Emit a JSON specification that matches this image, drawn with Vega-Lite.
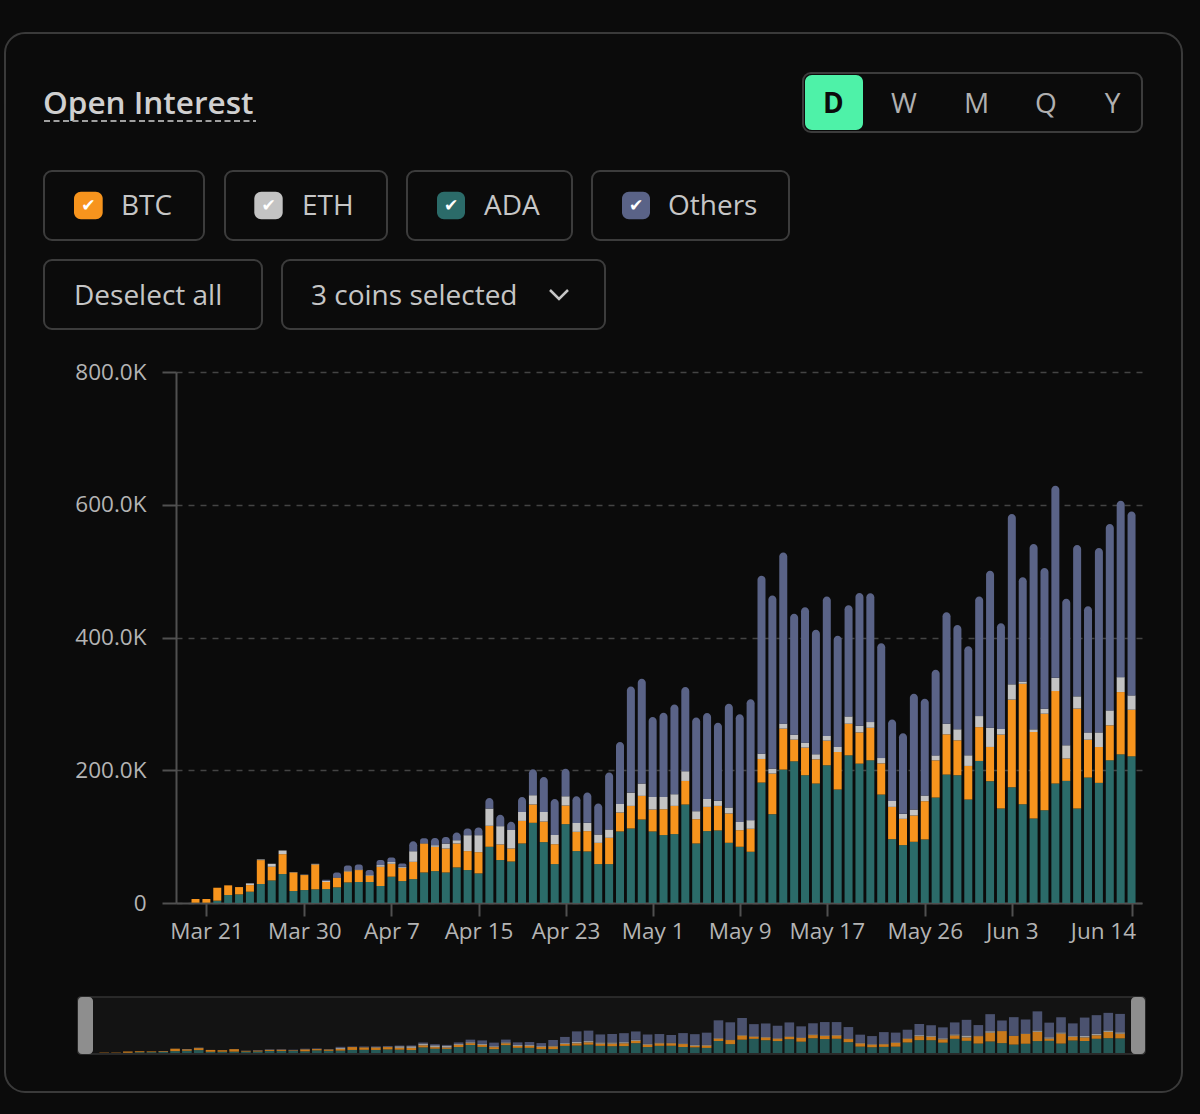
{
  "$schema": "https://vega.github.io/schema/vega-lite/v6.json",
  "width": 1200,
  "height": 1114,
  "autosize": "none",
  "padding": 0,
  "background": "#0b0b0b",
  "config": {"view": {"stroke": null}, "font": "Open Sans"},
  "datasets": {
    "oi": [
      {"date": "2024-03-20", "ADA": 500, "BTC": 5500, "ETH": 0, "Others": 0},
      {"date": "2024-03-21", "ADA": 500, "BTC": 5500, "ETH": 0, "Others": 0},
      {"date": "2024-03-22", "ADA": 3500, "BTC": 19500, "ETH": 0, "Others": 0},
      {"date": "2024-03-23", "ADA": 12000, "BTC": 14600, "ETH": 0, "Others": 0},
      {"date": "2024-03-24", "ADA": 13000, "BTC": 11000, "ETH": 0, "Others": 0},
      {"date": "2024-03-25", "ADA": 17000, "BTC": 10000, "ETH": 2600, "Others": 0},
      {"date": "2024-03-26", "ADA": 28600, "BTC": 36000, "ETH": 1000, "Others": 0},
      {"date": "2024-03-27", "ADA": 34000, "BTC": 20600, "ETH": 4500, "Others": 0},
      {"date": "2024-03-28", "ADA": 43600, "BTC": 30000, "ETH": 5500, "Others": 0},
      {"date": "2024-03-29", "ADA": 18000, "BTC": 28000, "ETH": 500, "Others": 0},
      {"date": "2024-03-30", "ADA": 19500, "BTC": 22600, "ETH": 500, "Others": 0},
      {"date": "2024-03-31", "ADA": 20600, "BTC": 37400, "ETH": 1000, "Others": 0},
      {"date": "2024-04-01", "ADA": 21000, "BTC": 10600, "ETH": 2000, "Others": 1400},
      {"date": "2024-04-02", "ADA": 23600, "BTC": 14400, "ETH": 600, "Others": 7500},
      {"date": "2024-04-03", "ADA": 31000, "BTC": 16500, "ETH": 1500, "Others": 7500},
      {"date": "2024-04-04", "ADA": 31600, "BTC": 18000, "ETH": 1000, "Others": 7500},
      {"date": "2024-04-05", "ADA": 31600, "BTC": 9400, "ETH": 1000, "Others": 7600},
      {"date": "2024-04-06", "ADA": 25600, "BTC": 29000, "ETH": 2500, "Others": 7600},
      {"date": "2024-04-07", "ADA": 39600, "BTC": 19500, "ETH": 2600, "Others": 7000},
      {"date": "2024-04-08", "ADA": 33000, "BTC": 20000, "ETH": 1500, "Others": 5000},
      {"date": "2024-04-09", "ADA": 36000, "BTC": 26000, "ETH": 16000, "Others": 15000},
      {"date": "2024-04-10", "ADA": 46000, "BTC": 43600, "ETH": 500, "Others": 7500},
      {"date": "2024-04-11", "ADA": 48000, "BTC": 36600, "ETH": 2500, "Others": 11000},
      {"date": "2024-04-12", "ADA": 46000, "BTC": 36000, "ETH": 7500, "Others": 10000},
      {"date": "2024-04-13", "ADA": 53600, "BTC": 36000, "ETH": 5000, "Others": 11600},
      {"date": "2024-04-14", "ADA": 49600, "BTC": 28600, "ETH": 24000, "Others": 10000},
      {"date": "2024-04-15", "ADA": 44600, "BTC": 32000, "ETH": 25600, "Others": 11500},
      {"date": "2024-04-16", "ADA": 84700, "BTC": 31600, "ETH": 26000, "Others": 16000},
      {"date": "2024-04-17", "ADA": 64700, "BTC": 23500, "ETH": 27600, "Others": 17000},
      {"date": "2024-04-18", "ADA": 62700, "BTC": 19500, "ETH": 27600, "Others": 12500},
      {"date": "2024-04-19", "ADA": 89700, "BTC": 34000, "ETH": 13500, "Others": 22600},
      {"date": "2024-04-20", "ADA": 120800, "BTC": 27600, "ETH": 14000, "Others": 39000},
      {"date": "2024-04-21", "ADA": 91700, "BTC": 31000, "ETH": 14500, "Others": 52700},
      {"date": "2024-04-22", "ADA": 58600, "BTC": 30000, "ETH": 14000, "Others": 54000},
      {"date": "2024-04-23", "ADA": 118800, "BTC": 28000, "ETH": 14000, "Others": 41600},
      {"date": "2024-04-24", "ADA": 78200, "BTC": 29000, "ETH": 13500, "Others": 40000},
      {"date": "2024-04-25", "ADA": 77700, "BTC": 30600, "ETH": 12500, "Others": 45600},
      {"date": "2024-04-26", "ADA": 58600, "BTC": 32000, "ETH": 12600, "Others": 46600},
      {"date": "2024-04-27", "ADA": 58600, "BTC": 39600, "ETH": 12600, "Others": 85700},
      {"date": "2024-04-28", "ADA": 107800, "BTC": 28500, "ETH": 13000, "Others": 93300},
      {"date": "2024-04-29", "ADA": 112300, "BTC": 34000, "ETH": 20000, "Others": 160000},
      {"date": "2024-04-30", "ADA": 125800, "BTC": 35600, "ETH": 18600, "Others": 157800},
      {"date": "2024-05-01", "ADA": 107800, "BTC": 33000, "ETH": 19000, "Others": 120300},
      {"date": "2024-05-02", "ADA": 102300, "BTC": 39000, "ETH": 18500, "Others": 126800},
      {"date": "2024-05-03", "ADA": 103800, "BTC": 42500, "ETH": 17600, "Others": 135300},
      {"date": "2024-05-04", "ADA": 148400, "BTC": 35500, "ETH": 14600, "Others": 126800},
      {"date": "2024-05-05", "ADA": 89700, "BTC": 36600, "ETH": 12000, "Others": 141000},
      {"date": "2024-05-06", "ADA": 108300, "BTC": 36500, "ETH": 12000, "Others": 129300},
      {"date": "2024-05-07", "ADA": 109300, "BTC": 37000, "ETH": 7600, "Others": 117800},
      {"date": "2024-05-08", "ADA": 90700, "BTC": 44200, "ETH": 9000, "Others": 156400},
      {"date": "2024-05-09", "ADA": 84700, "BTC": 25000, "ETH": 12500, "Others": 162000},
      {"date": "2024-05-10", "ADA": 77200, "BTC": 34600, "ETH": 13000, "Others": 182000},
      {"date": "2024-05-11", "ADA": 181500, "BTC": 35500, "ETH": 8000, "Others": 268000},
      {"date": "2024-05-12", "ADA": 133800, "BTC": 61200, "ETH": 7500, "Others": 260700},
      {"date": "2024-05-13", "ADA": 201000, "BTC": 61700, "ETH": 7500, "Others": 258000},
      {"date": "2024-05-14", "ADA": 213500, "BTC": 32600, "ETH": 7500, "Others": 182000},
      {"date": "2024-05-15", "ADA": 192500, "BTC": 41600, "ETH": 7500, "Others": 204000},
      {"date": "2024-05-16", "ADA": 180000, "BTC": 36500, "ETH": 7600, "Others": 187400},
      {"date": "2024-05-17", "ADA": 207500, "BTC": 37100, "ETH": 7000, "Others": 210000},
      {"date": "2024-05-18", "ADA": 171000, "BTC": 56500, "ETH": 7600, "Others": 167400},
      {"date": "2024-05-19", "ADA": 222500, "BTC": 47600, "ETH": 11000, "Others": 167400},
      {"date": "2024-05-20", "ADA": 210000, "BTC": 47000, "ETH": 10000, "Others": 200000},
      {"date": "2024-05-21", "ADA": 215000, "BTC": 49000, "ETH": 8600, "Others": 194000},
      {"date": "2024-05-22", "ADA": 163400, "BTC": 47000, "ETH": 8000, "Others": 173000},
      {"date": "2024-05-23", "ADA": 96200, "BTC": 48600, "ETH": 9000, "Others": 122800},
      {"date": "2024-05-24", "ADA": 87200, "BTC": 39600, "ETH": 7500, "Others": 121300},
      {"date": "2024-05-25", "ADA": 92200, "BTC": 39600, "ETH": 9000, "Others": 174400},
      {"date": "2024-05-26", "ADA": 95800, "BTC": 57600, "ETH": 8500, "Others": 145900},
      {"date": "2024-05-27", "ADA": 158900, "BTC": 56000, "ETH": 7500, "Others": 129000},
      {"date": "2024-05-28", "ADA": 193500, "BTC": 60600, "ETH": 16000, "Others": 167800},
      {"date": "2024-05-29", "ADA": 192500, "BTC": 52600, "ETH": 16600, "Others": 157300},
      {"date": "2024-05-30", "ADA": 155900, "BTC": 50600, "ETH": 16000, "Others": 164500},
      {"date": "2024-05-31", "ADA": 214000, "BTC": 51000, "ETH": 16600, "Others": 180000},
      {"date": "2024-06-01", "ADA": 183500, "BTC": 51600, "ETH": 29000, "Others": 236600},
      {"date": "2024-06-02", "ADA": 142400, "BTC": 111300, "ETH": 8500, "Others": 159300},
      {"date": "2024-06-03", "ADA": 174400, "BTC": 132000, "ETH": 23000, "Others": 256700},
      {"date": "2024-06-04", "ADA": 148900, "BTC": 181400, "ETH": 3500, "Others": 157000},
      {"date": "2024-06-05", "ADA": 127300, "BTC": 130300, "ETH": 4000, "Others": 279300},
      {"date": "2024-06-06", "ADA": 139800, "BTC": 145400, "ETH": 7500, "Others": 212000},
      {"date": "2024-06-07", "ADA": 180000, "BTC": 139300, "ETH": 20000, "Others": 289200},
      {"date": "2024-06-08", "ADA": 184000, "BTC": 33600, "ETH": 20000, "Others": 220600},
      {"date": "2024-06-09", "ADA": 142400, "BTC": 150400, "ETH": 18500, "Others": 228000},
      {"date": "2024-06-10", "ADA": 189000, "BTC": 57000, "ETH": 11000, "Others": 190000},
      {"date": "2024-06-11", "ADA": 181000, "BTC": 54000, "ETH": 22000, "Others": 277800},
      {"date": "2024-06-12", "ADA": 215000, "BTC": 52700, "ETH": 22500, "Others": 280800},
      {"date": "2024-06-13", "ADA": 224000, "BTC": 93800, "ETH": 22500, "Others": 265700},
      {"date": "2024-06-14", "ADA": 221000, "BTC": 70200, "ETH": 21600, "Others": 277200}
    ],
    "ui": [
      {"kind": "card", "x": 5, "x2": 1182, "y": 33, "y2": 1092},
      {"kind": "ovbg", "x": 78, "x2": 1145, "y": 997, "y2": 1054},
      {"kind": "handle", "x": 78, "x2": 93, "y": 997, "y2": 1054},
      {"kind": "handle", "x": 1131, "x2": 1145, "y": 997, "y2": 1054},
      {"kind": "btn", "x": 803, "x2": 1142, "y": 73, "y2": 132},
      {"kind": "btn", "x": 44, "x2": 204, "y": 171, "y2": 240},
      {"kind": "btn", "x": 225, "x2": 387, "y": 171, "y2": 240},
      {"kind": "btn", "x": 407, "x2": 572, "y": 171, "y2": 240},
      {"kind": "btn", "x": 592, "x2": 789, "y": 171, "y2": 240},
      {"kind": "btn", "x": 44, "x2": 262, "y": 260, "y2": 329},
      {"kind": "btn", "x": 282, "x2": 605, "y": 260, "y2": 329},
      {"kind": "sel", "x": 805, "x2": 863, "y": 75, "y2": 130},
      {"kind": "box", "coin": "BTC", "x": 74, "x2": 102.7, "y": 191.7, "y2": 219.3},
      {"kind": "box", "coin": "ETH", "x": 254.3, "x2": 282.7, "y": 191.7, "y2": 219.3},
      {"kind": "box", "coin": "ADA", "x": 437, "x2": 465, "y": 191.7, "y2": 219.3},
      {"kind": "box", "coin": "Others", "x": 622, "x2": 650, "y": 191.7, "y2": 219.3},
      {"kind": "check", "txt": "✔", "x": 88.4, "y": 206},
      {"kind": "check", "txt": "✔", "x": 268.5, "y": 206},
      {"kind": "check", "txt": "✔", "x": 451, "y": 206},
      {"kind": "check", "txt": "✔", "x": 636, "y": 206},
      {"kind": "label", "txt": "BTC", "x": 121, "y": 215},
      {"kind": "label", "txt": "ETH", "x": 302, "y": 215},
      {"kind": "label", "txt": "ADA", "x": 484, "y": 215},
      {"kind": "label", "txt": "Others", "x": 668, "y": 215},
      {"kind": "label", "txt": "Deselect all", "x": 74, "y": 305},
      {"kind": "label", "txt": "3 coins selected", "x": 311, "y": 305},
      {"kind": "tabsel", "txt": "D", "x": 833.3, "y": 112.7},
      {"kind": "tab", "txt": "W", "x": 904, "y": 112.7},
      {"kind": "tab", "txt": "M", "x": 976.7, "y": 112.7},
      {"kind": "tab", "txt": "Q", "x": 1046, "y": 112.7},
      {"kind": "tab", "txt": "Y", "x": 1112.7, "y": 112.7},
      {"kind": "title", "txt": "Open Interest", "x": 43, "y": 114},
      {"kind": "underline", "x": 44, "x2": 256, "y": 121},
      {"kind": "chev", "o": 1, "x": 550, "y": 290},
      {"kind": "chev", "o": 2, "x": 559, "y": 299},
      {"kind": "chev", "o": 3, "x": 568, "y": 290}
    ]
  },
  "layer": [
    {
      "data": {"name": "ui"},
      "encoding": {
        "x": {"field": "x", "type": "quantitative", "scale": {"domain": [0, 1200], "nice": false, "zero": false}, "axis": null},
        "y": {"field": "y", "type": "quantitative", "scale": {"domain": [0, 1114], "reverse": true, "nice": false, "zero": false}, "axis": null}
      },
      "layer": [
        {
          "transform": [{"filter": "datum.kind === 'card'"}],
          "mark": {"type": "rect", "fillOpacity": 0, "stroke": "#3a3a3a", "strokeWidth": 2, "cornerRadius": 20},
          "encoding": {"x2": {"field": "x2"}, "y2": {"field": "y2"}}
        },
        {
          "transform": [{"filter": "datum.kind === 'ovbg'"}],
          "mark": {"type": "rect", "fill": "#131313", "stroke": "#333333", "strokeWidth": 1.5, "cornerRadius": 3},
          "encoding": {"x2": {"field": "x2"}, "y2": {"field": "y2"}}
        },
        {
          "transform": [{"filter": "datum.kind === 'handle'"}],
          "mark": {"type": "rect", "fill": "#8e8e8e", "cornerRadius": 4},
          "encoding": {"x2": {"field": "x2"}, "y2": {"field": "y2"}}
        },
        {
          "transform": [{"filter": "datum.kind === 'btn'"}],
          "mark": {"type": "rect", "fillOpacity": 0, "stroke": "#3c3c3c", "strokeWidth": 2, "cornerRadius": 8},
          "encoding": {"x2": {"field": "x2"}, "y2": {"field": "y2"}}
        },
        {
          "transform": [{"filter": "datum.kind === 'sel'"}],
          "mark": {"type": "rect", "fill": "#4ef2a8", "cornerRadius": 7},
          "encoding": {"x2": {"field": "x2"}, "y2": {"field": "y2"}}
        },
        {
          "transform": [{"filter": "datum.kind === 'box'"}],
          "mark": {"type": "rect", "cornerRadius": 7, "opacity": 1},
          "encoding": {
            "x2": {"field": "x2"},
            "y2": {"field": "y2"},
            "color": {"field": "coin", "type": "nominal", "legend": null}
          }
        },
        {
          "transform": [{"filter": "datum.kind === 'check'"}],
          "mark": {"type": "text", "font": "DejaVu Sans", "fontSize": 17, "color": "#ffffff", "align": "center", "baseline": "middle"},
          "encoding": {"text": {"field": "txt"}}
        },
        {
          "transform": [{"filter": "datum.kind === 'label'"}],
          "mark": {"type": "text", "font": "Open Sans", "fontSize": 28, "color": "#c6c6c6", "align": "left", "baseline": "alphabetic"},
          "encoding": {"text": {"field": "txt"}}
        },
        {
          "transform": [{"filter": "datum.kind === 'tab'"}],
          "mark": {"type": "text", "font": "Open Sans", "fontSize": 28, "color": "#b0b0b0", "align": "center", "baseline": "alphabetic"},
          "encoding": {"text": {"field": "txt"}}
        },
        {
          "transform": [{"filter": "datum.kind === 'tabsel'"}],
          "mark": {"type": "text", "font": "Open Sans", "fontSize": 28, "fontWeight": "bold", "color": "#0b0b0b", "align": "center", "baseline": "alphabetic"},
          "encoding": {"text": {"field": "txt"}}
        },
        {
          "transform": [{"filter": "datum.kind === 'title'"}],
          "mark": {"type": "text", "font": "Open Sans", "fontSize": 31.5, "fontWeight": 600, "color": "#d0d0d0", "align": "left", "baseline": "alphabetic"},
          "encoding": {"text": {"field": "txt"}}
        },
        {
          "transform": [{"filter": "datum.kind === 'underline'"}],
          "mark": {"type": "rule", "stroke": "#a0a0a0", "strokeWidth": 2, "strokeDash": [6, 3.5]},
          "encoding": {"x2": {"field": "x2"}}
        },
        {
          "transform": [{"filter": "datum.kind === 'chev'"}],
          "mark": {"type": "line", "stroke": "#c6c6c6", "strokeWidth": 2.5},
          "encoding": {"order": {"field": "o"}}
        }
      ]
    },
    {
      "data": {"name": "oi"},
      "transform": [
        {"fold": ["ADA", "BTC", "ETH", "Others"], "as": ["coin", "value"]},
        {"stack": "value", "groupby": ["date"], "sort": [{"field": "coin", "order": "ascending"}], "as": ["v0", "v1"]}
      ],
      "encoding": {
        "x": {
          "field": "date",
          "type": "temporal",
          "scale": {
            "type": "utc",
            "domain": [
              {"year": 2024, "month": 3, "date": 18, "hours": 16, "utc": true},
              {"year": 2024, "month": 6, "date": 14, "hours": 12, "utc": true}
            ],
            "range": [176, 1142],
            "nice": false
          },
          "axis": {
            "title": null,
            "offset": -211,
            "grid": false,
            "values": [
              {"year": 2024, "month": 3, "date": 21, "utc": true},
              {"year": 2024, "month": 3, "date": 30, "utc": true},
              {"year": 2024, "month": 4, "date": 7, "utc": true},
              {"year": 2024, "month": 4, "date": 15, "utc": true},
              {"year": 2024, "month": 4, "date": 23, "utc": true},
              {"year": 2024, "month": 5, "date": 1, "utc": true},
              {"year": 2024, "month": 5, "date": 9, "utc": true},
              {"year": 2024, "month": 5, "date": 17, "utc": true},
              {"year": 2024, "month": 5, "date": 26, "utc": true},
              {"year": 2024, "month": 6, "date": 3, "utc": true},
              {"year": 2024, "month": 6, "date": 14, "utc": true}
            ],
            "labelExpr": "utcFormat(datum.value, '%b %-d')",
            "labelAlign": {"condition": {"test": "utcmonth(datum.value) === 5 && utcdate(datum.value) === 14", "value": "right"}, "value": "center"},
            "labelOffset": {"condition": {"test": "utcmonth(datum.value) === 5 && utcdate(datum.value) === 14", "value": 4}, "value": 0},
            "labelFlush": false,
            "labelOverlap": false,
            "labelFont": "Open Sans",
            "labelFontSize": 22.5,
            "labelColor": "#b4b4b4",
            "labelPadding": 4,
            "domainColor": "#505050",
            "domainWidth": 2,
            "tickColor": "#505050",
            "tickWidth": 2,
            "tickSize": 13
          }
        },
        "y": {
          "field": "v1",
          "type": "quantitative",
          "scale": {"domain": [0, 800000], "range": [903, 372], "nice": false},
          "axis": {
            "title": null,
            "offset": -176,
            "values": [0, 200000, 400000, 600000, 800000],
            "labelExpr": "datum.value === 0 ? '0' : format(datum.value / 1000, '.1f') + 'K'",
            "labelFont": "Open Sans",
            "labelFontSize": 22.5,
            "labelColor": "#b4b4b4",
            "labelPadding": 16,
            "grid": true,
            "gridColor": "#444444",
            "gridDash": [6, 6],
            "gridWidth": 1.5,
            "domainColor": "#505050",
            "domainWidth": 2,
            "tickColor": "#505050",
            "tickWidth": 2,
            "tickSize": 14
          }
        },
        "y2": {"field": "v0"},
        "color": {
          "field": "coin",
          "type": "nominal",
          "scale": {"domain": ["ADA", "BTC", "ETH", "Others"], "range": ["#2b6b69", "#f7941d", "#c3c3c3", "#5a6387"]},
          "legend": null
        }
      },
      "layer": [
        {
          "transform": [{"filter": "datum.coin !== 'Others'"}],
          "mark": {"type": "bar", "size": 8}
        },
        {
          "transform": [{"filter": "datum.coin === 'Others'"}],
          "mark": {"type": "bar", "size": 8, "cornerRadiusTopLeft": 4, "cornerRadiusTopRight": 4}
        }
      ]
    },
    {
      "data": {"name": "oi"},
      "transform": [
        {"fold": ["ADA", "BTC", "ETH", "Others"], "as": ["coin", "value"]},
        {"stack": "value", "groupby": ["date"], "sort": [{"field": "coin", "order": "ascending"}], "as": ["v0", "v1"]}
      ],
      "mark": {"type": "bar", "size": 9.6, "opacity": 0.8},
      "encoding": {
        "x": {
          "field": "date",
          "type": "temporal",
          "scale": {
            "type": "utc",
            "domain": [
              {"year": 2024, "month": 3, "date": 19, "hours": 12, "utc": true},
              {"year": 2024, "month": 6, "date": 14, "hours": 12, "utc": true}
            ],
            "range": [93.3, 1131],
            "nice": false
          },
          "axis": null
        },
        "y": {
          "field": "v1",
          "type": "quantitative",
          "scale": {"domain": [0, 800000], "range": [1053, 1000], "nice": false},
          "axis": null
        },
        "y2": {"field": "v0"},
        "color": {"field": "coin", "type": "nominal", "legend": null}
      }
    }
  ],
  "resolve": {"scale": {"x": "independent", "y": "independent"}, "axis": {"x": "independent", "y": "independent"}}
}
